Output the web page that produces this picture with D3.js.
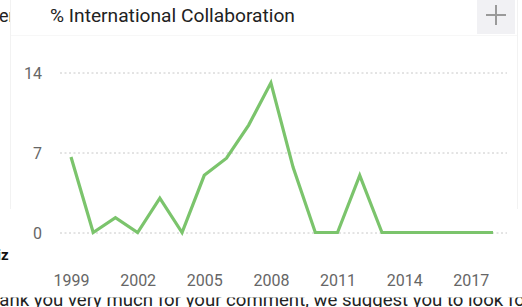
<!DOCTYPE html>
<html><head><meta charset="utf-8">
<script src="https://cdn.jsdelivr.net/npm/d3@7"></script>
<style>html,body{margin:0;padding:0;background:#fff;overflow:hidden}svg{display:block;font-family:Roboto,"Noto Sans",sans-serif}</style>
</head><body>
<svg id="c" width="522" height="307"></svg>
<script>
const title = "% International Collaboration";
const years = [1999,2000,2001,2002,2003,2004,2005,2006,2007,2008,2009,2010,2011,2012,2013,2014,2015,2016,2017,2018];
const values = [6.6,0,1.3,0,3.0,0,5.0,6.5,9.4,13.1,5.7,0,0,5.0,0,0,0,0,0,0];
const yTicks = [0,7,14];
const xTicks = [1999,2002,2005,2008,2011,2014,2017];

const svg = d3.select("#c");
// background page text (behind the card)
const defs = svg.append("defs");
defs.append("clipPath").attr("id","leftClip").append("rect").attr("x",0).attr("y",0).attr("width",11).attr("height",307);
defs.append("clipPath").attr("id","botClip").append("rect").attr("x",0).attr("y",297.5).attr("width",522).attr("height",10);
svg.append("text").attr("x",-1).attr("y",22).attr("font-size",18).attr("fill","#222").attr("clip-path","url(#leftClip)").text("er");
svg.append("text").attr("x",-3).attr("y",260).attr("font-size",15).attr("font-weight","bold").attr("fill","#111").attr("clip-path","url(#leftClip)").text("iz");
svg.append("text").attr("x",-22).attr("y",306).attr("font-size",18.6).attr("fill","#222").attr("clip-path","url(#botClip)")
  .text("Thank you very much for your comment, we suggest you to look for");

// card borders
svg.append("line").attr("x1",10.5).attr("x2",10.5).attr("y1",0).attr("y2",209).attr("stroke","#f2f2f2");
svg.append("line").attr("x1",517.5).attr("x2",517.5).attr("y1",0).attr("y2",209).attr("stroke","#f2f2f2");
svg.append("line").attr("x1",11).attr("x2",517).attr("y1",35.5).attr("y2",35.5).attr("stroke","#f7f7f7");

// title & button
svg.append("text").attr("x",50).attr("y",22).attr("font-size",19.2).attr("fill","#222").text(title);
svg.append("rect").attr("x",477).attr("y",0).attr("width",38).attr("height",34).attr("fill","#f1f1f4");
svg.append("line").attr("x1",486).attr("x2",506).attr("y1",15).attr("y2",15).attr("stroke","#9a9a9a").attr("stroke-width",2);
svg.append("line").attr("x1",496).attr("x2",496).attr("y1",5).attr("y2",25).attr("stroke","#9a9a9a").attr("stroke-width",2);

const x = d3.scaleLinear().domain([1999,2018]).range([71,493]);
const y = d3.scaleLinear().domain([0,14]).range([232.5,72.5]);

// grid
const grid = svg.append("g").attr("transform","translate(60,0)")
  .call(d3.axisLeft(y).tickValues(yTicks).tickSize(-447).tickFormat(d=>d).tickPadding(18));
grid.select(".domain").remove();
grid.selectAll(".tick line").attr("stroke","#c8c8c8").attr("stroke-dasharray","2,2.5").attr("x1",0).attr("x2",447);
grid.selectAll(".tick text").attr("font-size",16).attr("fill","#666").attr("font-family","Roboto,sans-serif").attr("x",-18).attr("dy","0.38em");

const xa = svg.append("g").attr("transform","translate(0,270)")
  .call(d3.axisBottom(x).tickValues(xTicks).tickFormat(d3.format("d")).tickSize(0).tickPadding(0));
xa.select(".domain").remove();
xa.selectAll(".tick text").attr("font-size",16).attr("fill","#666").attr("font-family","Roboto,sans-serif").attr("dy","0.98em");

const line = d3.line().x((d,i)=>x(years[i])).y(d=>y(d));
svg.append("path").datum(values).attr("d",line).attr("fill","none")
  .attr("stroke","#7bc46c").attr("stroke-width",3.2).attr("stroke-linejoin","miter");
</script>
</body></html>
